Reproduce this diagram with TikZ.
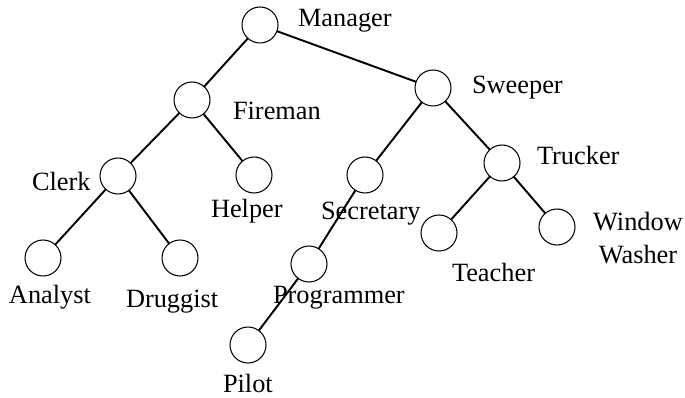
\documentclass[tikz,border=0pt]{standalone}
\usepackage{fontspec}
\setmainfont{Liberation Serif}

\begin{document}
\begin{tikzpicture}[x=0.02cm,y=-0.02cm,inner sep=0pt,outer sep=0pt,line width=1.1pt,
person/.style={draw,circle,minimum size=0.72cm,line width=0.6pt},
job/.style={anchor=base west,font=\fontsize{15}{18.8}\selectfont}]

\useasboundingbox (0,0) rectangle (685,398);

\draw (260,25) node[person] (manager) {};
\draw (192,100) node[person] (fireman) {};
\draw (433,88) node[person] (sweeper) {};
\draw (118,176) node[person] (clerk) {};
\draw (254,175) node[person] (helper) {};
\draw (365,175) node[person] (secretary) {};
\draw (502,163) node[person] (trucker) {};
\draw (43,258) node[person] (analyst) {};
\draw (180,258) node[person] (druggist) {};
\draw (309,264) node[person] (programmer) {};
\draw (439,233) node[person] (teacher) {};
\draw (557,227) node[person] (washer) {};
\draw (248,345) node[person] (pilot) {};

\node[job] (managerlbl) at (298,27) {Manager};
\node[job] (firemanlbl) at (233,120) {Fireman};
\node[job] (sweeperlbl) at (472,94) {Sweeper};
\node[job] (clerklbl) at (32,191) {Clerk};
\node[job] (helperlbl) at (211,217) {Helper};
\node[job] (secretarylbl) at (321,219) {Secretary};
\node[job] (truckerlbl) at (537,165) {Trucker};
\node[job] (analystlbl) at (9,303) {Analyst};
\node[job] (druggistlbl) at (126,307) {Druggist};
\node[job] (programmerlbl) at (273,303) {Programmer};
\node[job] (teacherlbl) at (452,281) {Teacher};
\node[job,anchor=north,align=center] (washerlbl) at (638,212) {Window\\Washer};
\node[job] (pilotlbl) at (223,392) {Pilot};

\draw (manager) -- (fireman);
\draw (manager) -- (sweeper);
\draw (fireman) -- (clerk);
\draw (fireman) -- (helper);
\draw (clerk) -- (analyst);
\draw (clerk) -- (druggist);
\draw (sweeper) -- (secretary);
\draw (sweeper) -- (trucker);
\draw (secretary) -- (programmer);
\draw (programmer) -- (pilot);
\draw (trucker) -- (teacher);
\draw (trucker) -- (washer);
\end{tikzpicture}
\end{document}
